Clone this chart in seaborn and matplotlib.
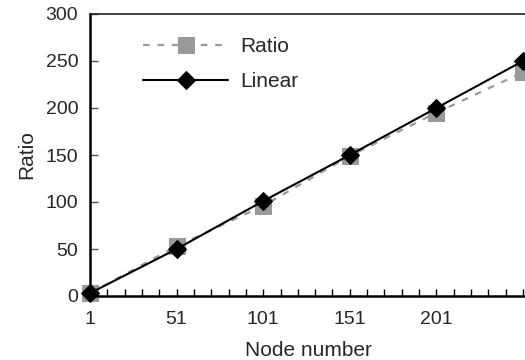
import pandas as pd
import matplotlib
matplotlib.use('Agg')
import matplotlib.pyplot as plt
import seaborn as sns
from matplotlib.ticker import MultipleLocator, FixedLocator

# data
nodes = [1, 51, 101, 151, 201, 251]
ratio = [3, 53, 96, 149, 195, 238]
linear = [3, 50, 101, 150, 200, 250]
x_ticks = [1, 51, 101, 151, 201]
y_ticks = [0, 50, 100, 150, 200, 250, 300]

df = pd.DataFrame({'node': nodes, 'Ratio': ratio, 'Linear': linear})

sns.set_style("white")
plt.rcParams['font.family'] = ['Liberation Sans', 'DejaVu Sans']

fig = plt.figure(figsize=(5.25, 3.6), dpi=100)
ax = fig.add_axes([90 / 525, 1 - 296 / 360, 437 / 525, 282 / 360])

sns.lineplot(data=df, x='node', y='Ratio', ax=ax, color='#999999', marker='s',
             markersize=11, markeredgecolor='#999999', linewidth=1.6,
             label='Ratio', clip_on=False)
ax.lines[-1].set_dashes([3, 3.5])
sns.lineplot(data=df, x='node', y='Linear', ax=ax, color='black', marker='D',
             markersize=9, markeredgecolor='black', linewidth=1.5,
             label='Linear', clip_on=False)

ax.set_xlim(1, 253.3)
ax.set_ylim(0, 300)
ax.xaxis.set_major_locator(FixedLocator(x_ticks))
ax.xaxis.set_minor_locator(MultipleLocator(10, offset=1))
ax.yaxis.set_major_locator(FixedLocator(y_ticks))
ax.tick_params(axis='x', which='both', direction='in', length=5, width=1,
               color='black', labelsize=14, pad=11, bottom=True)
ax.tick_params(axis='y', which='major', direction='in', length=6, width=1,
               color='#555555', labelsize=14, pad=8.5, left=True)

for side in ['left', 'bottom']:
    ax.spines[side].set_linewidth(1.8)
    ax.spines[side].set_color('black')
ax.spines['top'].set_linewidth(1.2)
ax.spines['top'].set_color('#222222')
ax.spines['right'].set_visible(False)

ax.set_xlabel('Node number', fontsize=15, labelpad=9.5)
ax.set_ylabel('Ratio', fontsize=15, labelpad=6.5)

ax.legend(loc='upper left', bbox_to_anchor=(0.0785, 0.985), frameon=False,
          fontsize=15, handlelength=4.1, handletextpad=0.58, labelspacing=0.77)

fig.savefig('out.png', dpi=100)
